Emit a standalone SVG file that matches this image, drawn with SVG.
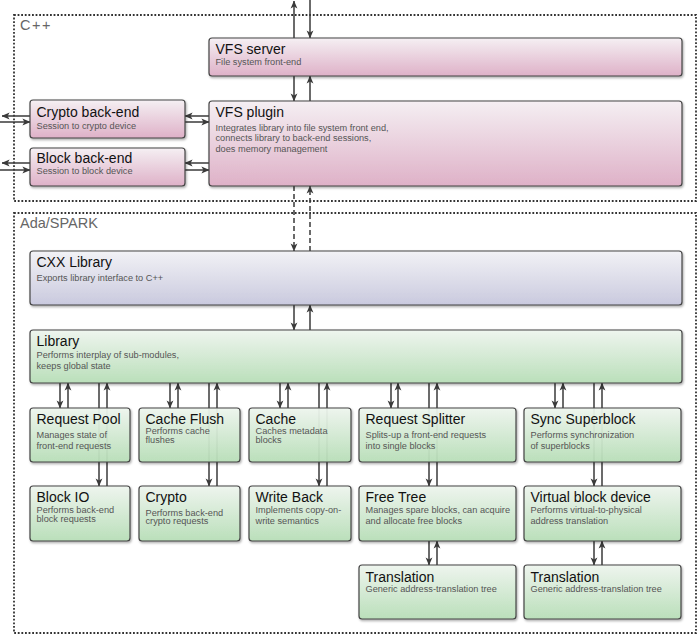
<svg xmlns="http://www.w3.org/2000/svg" width="700" height="636" viewBox="0 0 700 636">
<style>
.frame{fill:none;stroke:#333;stroke-width:1.8;stroke-dasharray:1.8 1.8}
.flabel{font-family:"Liberation Sans",Arial,sans-serif;font-size:14.5px;fill:#666}
.box{stroke:#444;stroke-width:1.2;filter:url(#sh);fill-opacity:0.93}
.pink{fill:url(#gp)}
.blue{fill:url(#gb)}
.green{fill:url(#gg)}
.t{font-family:"Liberation Sans",Arial,sans-serif;font-size:14px;fill:#111}
.s{font-family:"Liberation Sans",Arial,sans-serif;font-size:9.2px;fill:#555}
.c line{stroke:#3a3a3a;stroke-width:1.5;fill:none}
.c .a{marker-end:url(#ah)}
.c .d{stroke-dasharray:5 3}
</style>
<defs>
<linearGradient id="gp" x1="0" y1="0" x2="0" y2="1"><stop offset="0" stop-color="#f7f1f5"/><stop offset="1" stop-color="#dfafc7"/></linearGradient>
<linearGradient id="gb" x1="0" y1="0" x2="0" y2="1"><stop offset="0" stop-color="#f4f4f8"/><stop offset="1" stop-color="#c9c9df"/></linearGradient>
<linearGradient id="gg" x1="0" y1="0" x2="0" y2="1"><stop offset="0" stop-color="#f0f7f0"/><stop offset="1" stop-color="#b9e0b9"/></linearGradient>
<filter id="sh" x="-5%" y="-10%" width="110%" height="130%"><feDropShadow dx="1" dy="1.5" stdDeviation="0.8" flood-color="#000" flood-opacity="0.35"/></filter>
<marker id="ah" viewBox="0 0 8 8" refX="7.6" refY="4" markerWidth="8" markerHeight="8" markerUnits="userSpaceOnUse" orient="auto"><path d="M0,0.6 L8,4 L0,7.4 L2,4 z" fill="#3a3a3a"/></marker>
</defs>
<g id="frames">
<rect class="frame" x="14" y="15" width="682" height="186"/>
<text class="flabel" x="20" y="30" letter-spacing="1.5">C++</text>
<rect class="frame" x="14" y="213" width="682" height="420"/>
<text class="flabel" x="20" y="228">Ada/SPARK</text>
</g>
<g id="connectors" class="c">
<line class="a" x1="294" y1="38" x2="294" y2="1"/>
<line class="a" x1="310" y1="0" x2="310" y2="38"/>
<line class="a" x1="294" y1="76" x2="294" y2="101"/>
<line class="a" x1="310" y1="101" x2="310" y2="76"/>
<line class="a d" x1="294" y1="186" x2="294" y2="251"/>
<line class="a d" x1="310" y1="251" x2="310" y2="186"/>
<line class="a" x1="294" y1="305" x2="294" y2="330"/>
<line class="a" x1="310" y1="330" x2="310" y2="305"/>
<line class="a" x1="209" y1="116" x2="185" y2="116"/>
<line class="a" x1="185" y1="122" x2="209" y2="122"/>
<line class="a" x1="30" y1="116" x2="2" y2="116"/>
<line class="a" x1="0" y1="122" x2="30" y2="122"/>
<line class="a" x1="209" y1="163" x2="185" y2="163"/>
<line class="a" x1="185" y1="170" x2="209" y2="170"/>
<line class="a" x1="30" y1="163" x2="2" y2="163"/>
<line class="a" x1="0" y1="170" x2="30" y2="170"/>
<line class="a" x1="60" y1="383" x2="60" y2="408"/>
<line class="a" x1="68" y1="408" x2="68" y2="383"/>
<line class="a" x1="170" y1="383" x2="170" y2="408"/>
<line class="a" x1="178" y1="408" x2="178" y2="383"/>
<line class="a" x1="280" y1="383" x2="280" y2="408"/>
<line class="a" x1="288" y1="408" x2="288" y2="383"/>
<line class="a" x1="391" y1="383" x2="391" y2="408"/>
<line class="a" x1="398" y1="408" x2="398" y2="383"/>
<line class="a" x1="555" y1="383" x2="555" y2="408"/>
<line class="a" x1="563" y1="408" x2="563" y2="383"/>
<line class="a" x1="99" y1="383" x2="99" y2="486"/>
<line class="a" x1="107" y1="486" x2="107" y2="383"/>
<line class="a" x1="209" y1="383" x2="209" y2="486"/>
<line class="a" x1="217" y1="486" x2="217" y2="383"/>
<line class="a" x1="319" y1="383" x2="319" y2="486"/>
<line class="a" x1="327" y1="486" x2="327" y2="383"/>
<line class="a" x1="429" y1="383" x2="429" y2="486"/>
<line class="a" x1="437" y1="486" x2="437" y2="383"/>
<line class="a" x1="594" y1="383" x2="594" y2="486"/>
<line class="a" x1="602" y1="486" x2="602" y2="383"/>
<line class="a" x1="429" y1="541" x2="429" y2="565"/>
<line class="a" x1="437" y1="565" x2="437" y2="541"/>
<line class="a" x1="594" y1="541" x2="594" y2="565"/>
<line class="a" x1="602" y1="565" x2="602" y2="541"/>
</g>
<g id="vfs-server"><rect class="box pink" x="209" y="38" width="473" height="38" rx="3"/><text class="t" x="215.5" y="54">VFS server</text><text class="s" x="215.5" y="64.5">File system front-end</text></g>
<g id="vfs-plugin"><rect class="box pink" x="209" y="101" width="473" height="85" rx="3"/><text class="t" x="215.5" y="117">VFS plugin</text><text class="s" x="215.5" y="130.5">Integrates library into file system front end,</text><text class="s" x="215.5" y="141.2">connects library to back-end sessions,</text><text class="s" x="215.5" y="151.9">does memory management</text></g>
<g id="crypto-backend"><rect class="box pink" x="30" y="100" width="155" height="38" rx="3"/><text class="t" x="36.5" y="116.5">Crypto back-end</text><text class="s" x="36.5" y="129">Session to crypto device</text></g>
<g id="block-backend"><rect class="box pink" x="30" y="148" width="155" height="38" rx="3"/><text class="t" x="36.5" y="163">Block back-end</text><text class="s" x="36.5" y="174">Session to block device</text></g>
<g id="cxx-library"><rect class="box blue" x="30" y="251" width="652" height="54" rx="3"/><text class="t" x="36.5" y="266.5">CXX Library</text><text class="s" x="36.5" y="281">Exports library interface to C++</text></g>
<g id="library"><rect class="box green" x="30" y="330" width="652" height="53" rx="3"/><text class="t" x="36.5" y="346">Library</text><text class="s" x="36.5" y="358.3">Performs interplay of sub-modules,</text><text class="s" x="36.5" y="369.3">keeps global state</text></g>
<g id="request-pool"><rect class="box green" x="30" y="408" width="100" height="54" rx="3"/><text class="t" x="36.5" y="424">Request Pool</text><text class="s" x="36.5" y="437.7">Manages state of</text><text class="s" x="36.5" y="448.7">front-end requests</text></g>
<g id="cache-flush"><rect class="box green" x="139" y="408" width="101" height="54" rx="3"/><text class="t" x="145.5" y="424">Cache Flush</text><text class="s" x="145.5" y="434">Performs cache</text><text class="s" x="145.5" y="443.3">flushes</text></g>
<g id="cache"><rect class="box green" x="249" y="408" width="102" height="54" rx="3"/><text class="t" x="255.5" y="424">Cache</text><text class="s" x="255.5" y="434">Caches metadata</text><text class="s" x="255.5" y="443.3">blocks</text></g>
<g id="request-splitter"><rect class="box green" x="359" y="408" width="157" height="54" rx="3"/><text class="t" x="365.5" y="424">Request Splitter</text><text class="s" x="365.5" y="437.7">Splits-up a front-end requests</text><text class="s" x="365.5" y="448.7">into single blocks</text></g>
<g id="sync-superblock"><rect class="box green" x="524" y="408" width="157" height="54" rx="3"/><text class="t" x="530.5" y="424">Sync Superblock</text><text class="s" x="530.5" y="437.7">Performs synchronization</text><text class="s" x="530.5" y="448.7">of superblocks</text></g>
<g id="block-io"><rect class="box green" x="30" y="486" width="100" height="55" rx="3"/><text class="t" x="36.5" y="501.7">Block IO</text><text class="s" x="36.5" y="512.7">Performs back-end</text><text class="s" x="36.5" y="521.7">block requests</text></g>
<g id="crypto"><rect class="box green" x="139" y="486" width="101" height="55" rx="3"/><text class="t" x="145.5" y="501.7">Crypto</text><text class="s" x="145.5" y="515.7">Performs back-end</text><text class="s" x="145.5" y="524.3">crypto requests</text></g>
<g id="write-back"><rect class="box green" x="249" y="486" width="102" height="55" rx="3"/><text class="t" x="255.5" y="501.7">Write Back</text><text class="s" x="255.5" y="512.7">Implements copy-on-</text><text class="s" x="255.5" y="524">write semantics</text></g>
<g id="free-tree"><rect class="box green" x="359" y="486" width="157" height="55" rx="3"/><text class="t" x="365.5" y="501.7">Free Tree</text><text class="s" x="365.5" y="512.7">Manages spare blocks, can acquire</text><text class="s" x="365.5" y="524">and allocate free blocks</text></g>
<g id="virtual-block-device"><rect class="box green" x="524" y="486" width="157" height="55" rx="3"/><text class="t" x="530.5" y="501.7">Virtual block device</text><text class="s" x="530.5" y="512.7">Performs virtual-to-physical</text><text class="s" x="530.5" y="524">address translation</text></g>
<g id="translation-1"><rect class="box green" x="359" y="565" width="157" height="54" rx="3"/><text class="t" x="365.5" y="581.7">Translation</text><text class="s" x="365.5" y="591.7">Generic address-translation tree</text></g>
<g id="translation-2"><rect class="box green" x="524" y="565" width="157" height="54" rx="3"/><text class="t" x="530.5" y="581.7">Translation</text><text class="s" x="530.5" y="591.7">Generic address-translation tree</text></g>
</svg>
